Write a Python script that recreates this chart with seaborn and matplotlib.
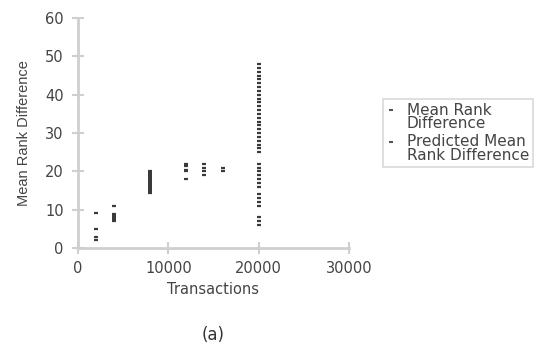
import matplotlib
matplotlib.use("Agg")
import matplotlib.pyplot as plt
import seaborn as sns
import pandas as pd
from matplotlib.lines import Line2D
from matplotlib.legend_handler import HandlerLine2D

# Transaction counts at which the rank difference was measured
transactions = [2000, 4000, 8000, 12000, 14000, 16000, 20000]

# Observed mean rank difference for each transaction count
rank_2000 = [2, 3, 5, 9.2]
rank_4000 = [7, 7.5, 8, 8.5, 9, 11]
rank_8000 = [14.5, 15, 15.5, 16, 16.5, 17, 17.5, 18, 18.5, 19, 19.5, 20]
rank_12000 = [18, 20, 20.5, 21.5, 22]
rank_14000 = [19, 20, 21, 22]
rank_16000 = [20, 21]
rank_20000 = [6, 7, 8, 11, 12, 13, 14, 16, 17, 18, 19, 20, 21, 22,
              25, 26, 27, 28, 29, 30, 31, 32, 33, 34, 35, 36, 37, 38,
              39, 40, 41, 42, 43, 44, 45, 46, 47, 48]

# Predicted values (none drawn in this panel)
predicted_x = []
predicted_y = []

groups = [rank_2000, rank_4000, rank_8000, rank_12000,
          rank_14000, rank_16000, rank_20000]
rows = [(t, v) for t, vals in zip(transactions, groups) for v in vals]
df = pd.DataFrame(rows, columns=["Transactions", "Mean Rank Difference"])

sns.set_style("white")
plt.rcParams["font.family"] = ["DejaVu Sans"]

text_color = "#444444"
spine_color = "#cfcfcf"
point_color = "#3a3a3a"

fig = plt.figure(figsize=(5.5, 3.47), dpi=100)
ax = fig.add_axes([0.1418, 0.285, 0.4927, 0.663])

sns.scatterplot(data=df, x="Transactions", y="Mean Rank Difference", ax=ax,
                marker="_", s=10, linewidth=1.6, color=point_color, legend=False)
ax.scatter(predicted_x, predicted_y, marker="_", s=10, linewidth=1.6,
           color="#666666")

ax.set_xlim(0, 30000)
ax.set_ylim(0, 60)
ax.set_xticks([0, 10000, 20000, 30000])
ax.set_yticks([0, 10, 20, 30, 40, 50, 60])

for side in ["top", "right"]:
    ax.spines[side].set_visible(False)
for side in ["left", "bottom"]:
    ax.spines[side].set_color(spine_color)
    ax.spines[side].set_linewidth(2)
ax.tick_params(axis="both", which="major", bottom=True, left=True,
               direction="inout", length=8.5, width=1.5, color=spine_color,
               labelsize=10.5, labelcolor=text_color)
ax.tick_params(axis="y", pad=6)
ax.tick_params(axis="x", pad=5)

ax.set_xlabel("Transactions", fontsize=10.5, color=text_color, labelpad=4)
ax.set_ylabel("Mean Rank Difference", fontsize=10.5, color=text_color,
              labelpad=10, family=["Liberation Sans", "DejaVu Sans"])


class FirstLineHandler(HandlerLine2D):
    """Places the legend marker beside the first line of a two-line label."""

    def create_artists(self, legend, orig_handle, xdescent, ydescent,
                       width, height, fontsize, trans):
        artists = super().create_artists(legend, orig_handle, xdescent,
                                         ydescent, width, height, fontsize,
                                         trans)
        for a in artists:
            a.set_ydata([y + 0.5 * fontsize for y in a.get_ydata()])
        return artists


handles = [
    Line2D([], [], linestyle="none", marker="_", markersize=3.5, mew=1.5,
           color="#555555", label="Mean Rank\nDifference"),
    Line2D([], [], linestyle="none", marker="_", markersize=3.5, mew=1.5,
           color="#555555", label="Predicted Mean\nRank Difference"),
]
leg = fig.legend(handles=handles, loc="upper left",
                 bbox_to_anchor=(383 / 550, 1 - 99 / 347),
                 frameon=True, fancybox=False, fontsize=11,
                 handlelength=0.6, handletextpad=0.7, borderpad=0.25,
                 labelspacing=0.2, borderaxespad=0,
                 handler_map={Line2D: FirstLineHandler()})
leg.get_frame().set_edgecolor(spine_color)
leg.get_frame().set_linewidth(1.2)
for t in leg.get_texts():
    t.set_color(text_color)
    t.set_linespacing(0.88)

fig.text(213 / 550, 1 - 335 / 347, "(a)", ha="center", va="center",
         fontsize=12, color="#333333")

fig.savefig("out.png", dpi=100)
